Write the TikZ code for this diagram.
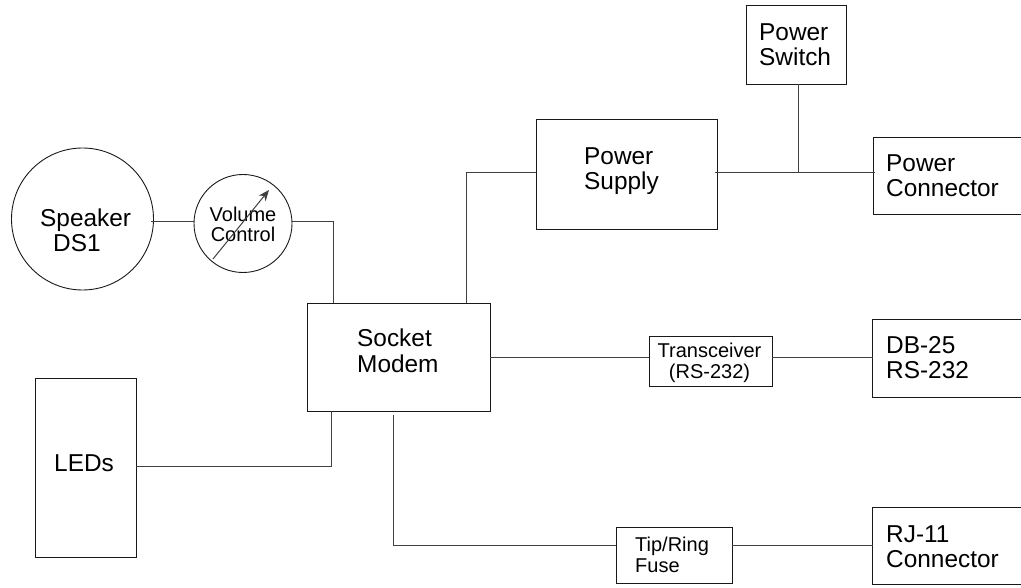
\documentclass[tikz,border=0pt]{standalone}
\usepackage{fontspec}
\setmainfont{Liberation Sans}
\usetikzlibrary{arrows.meta}
\tikzset{
  box/.style={draw=black!90,line width=0.9pt,fill=white,inner sep=0pt,outer sep=0pt},
  disc/.style={draw=black!90,line width=0.9pt,circle,inner sep=0pt,outer sep=0pt},
  wire/.style={draw=black!75,line width=1pt},
  big/.style={font=\fontsize{24.4}{25}\selectfont,inner sep=0pt,align=left,anchor=base west},
  small/.style={font=\fontsize{20}{20.5}\selectfont,inner sep=0pt,anchor=base},
}
\begin{document}
\begin{tikzpicture}[x=1pt,y=-1pt]
\useasboundingbox (0,0) rectangle (1021,588);
% shapes
\node[disc,minimum size=142pt] (speaker) at (82.5,219) {};
\node[disc,minimum size=98pt] (volume) at (243,223.5) {};
\node[box,minimum width=183pt,minimum height=108pt] (socket) at (398.5,357) {};
\node[box,minimum width=101pt,minimum height=179pt] (leds) at (85.5,467.5) {};
\node[box,minimum width=181pt,minimum height=110pt] (supply) at (626.5,174) {};
\node[box,minimum width=100pt,minimum height=79pt] (switch) at (796,45) {};
\node[box,minimum width=160pt,minimum height=77pt] (pconn) at (953,175.5) {};
\node[box,minimum width=123pt,minimum height=50pt] (xcvr) at (710.5,361) {};
\node[box,minimum width=160pt,minimum height=78pt] (db) at (952.5,358) {};
\node[box,minimum width=116pt,minimum height=56pt] (fuse) at (674,555) {};
\node[box,minimum width=160pt,minimum height=77pt] (rj) at (952.5,545.5) {};
% labels
\node[big] (speakertext) at (40,252) {Speaker\\\hspace*{13pt}DS1};
\node[small,align=center] (volumetext) at (243,242) {Volume\\Control};
\node[big] (sockettext) at (357,372) {Socket\\Modem};
\node[big] (ledstext) at (54,471) {LEDs};
\node[big] (supplytext) at (584,190) {Power\\Supply};
\node[big] (switchtext) at (759,66) {Power\\Switch};
\node[big] (pconntext) at (886,197) {Power\\Connector};
\node[small,align=center] (xcvrtext) at (709.5,378) {Transceiver\\(RS-232)};
\node[big] (dbtext) at (886,378) {DB-25\\RS-232};
\node[small,align=left,anchor=base west] (fusetext) at (635,572) {Tip/Ring\\Fuse};
\node[big] (rjtext) at (886,567) {RJ-11\\Connector};
% junction points
\coordinate (sa) at (151,222);
\coordinate (sb) at (333,222);
\coordinate (ta) at (466,173);
\coordinate (tap) at (798,173);
\coordinate (psl) at (715,173);
\coordinate (pcr) at (875,173);
\coordinate (fs) at (393,415);
\coordinate (fc) at (393,545);
\coordinate (la) at (331,466);
% connectors
\draw[wire] (sa) -- (sa -| volume.west);
\draw[wire] (volume.east |- sb) -- (sb) -- (sb |- socket.north);
\draw[wire] (ta |- socket.north) -- (ta) -- (ta -| supply.west);
\draw[wire] (psl) -- (pcr);
\draw[wire] (switch.south -| tap) -- (tap);
\draw[wire] (socket.east) -- (xcvr.west |- socket.east);
\draw[wire] (xcvr.east |- socket.east) -- (db.west |- socket.east);
\draw[wire] (fs) -- (fc) -- (fc -| fuse.west);
\draw[wire] (fuse.east |- fc) -- (rj.west |- fc);
\draw[wire] (leds.east |- la) -- (la) -- (la |- socket.south);
% volume arrow
\coordinate (aa) at (213,259);
\coordinate (ab) at (269,190);
\draw[wire,-{Stealth[length=11pt,width=9pt]}] (aa) -- (ab);
\end{tikzpicture}
\end{document}
